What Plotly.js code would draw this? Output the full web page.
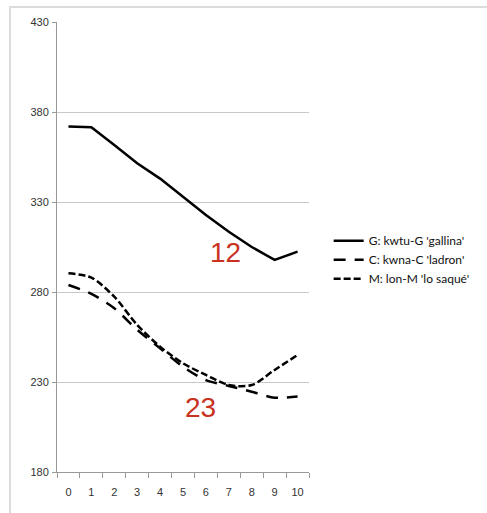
<!DOCTYPE html>
<html>
<head>
<meta charset="utf-8">
<script src="https://cdn.plot.ly/plotly-3.0.1.min.js"></script>
<style>
html,body{margin:0;padding:0;background:#fff;}
#frame{position:absolute;left:9px;top:6px;width:600px;height:600px;border:2px solid #dcdcdc;}
#chart{position:absolute;left:0;top:0;width:487px;height:513px;}
</style>
</head>
<body>
<div id="frame"></div>
<div id="chart"></div>
<script>
var categories = ['0','1','2','3','4','5','6','7','8','9','10'];
var seriesG = [372, 371.5, 361.7, 351.5, 343, 333, 322.8, 313.5, 305, 297.8, 302.4];
var seriesC = [283.9, 279, 271, 259, 248.7, 238.5, 231, 227.8, 224.6, 221.3, 221.9];
var seriesM = [290.4, 288, 277.4, 261.7, 249.6, 240.4, 233.9, 228.3, 228.3, 236.7, 245];
var namesList = ["G: kwtu-G 'gallina'", "C: kwna-C 'ladron'", "M: lon-M 'lo saqué'"];
var yTicks = [180, 230, 280, 330, 380, 430];

var traces = [
  {x: categories, y: seriesG, name: namesList[0], mode: 'lines', type: 'scatter',
   line: {color: '#000', width: 2.5}},
  {x: categories, y: seriesC, name: namesList[1], mode: 'lines', type: 'scatter',
   line: {color: '#000', width: 2.5, dash: '12px,9px', shape: 'spline', smoothing: 0.8}},
  {x: categories, y: seriesM, name: namesList[2], mode: 'lines', type: 'scatter',
   line: {color: '#000', width: 2.5, dash: '7px,3px', shape: 'spline', smoothing: 0.8}}
];

var layout = {
  width: 487, height: 513,
  margin: {l: 57, r: 174, t: 22, b: 41},
  paper_bgcolor: 'rgba(0,0,0,0)',
  plot_bgcolor: 'rgba(0,0,0,0)',
  font: {family: 'Liberation Sans, Arial, sans-serif', size: 11, color: '#333'},
  showlegend: true,
  legend: {x: 1.078, y: 0.546, xanchor: 'left', yanchor: 'top',
           font: {family: 'Lato, sans-serif', size: 12, color: '#111'},
           tracegroupgap: 0, itemwidth: 30},
  xaxis: {type: 'category', range: [-0.5, 10.5], tickson: 'boundaries', ticks: 'outside', ticklen: 5,
          tickcolor: '#999', showline: true, linecolor: '#999', linewidth: 1,
          showgrid: false, zeroline: false, ticklabelstandoff: 10,
          tickfont: {size: 11, color: '#333'}},
  yaxis: {range: [180, 430], tickvals: yTicks, ticks: 'outside', ticklen: 4,
          tickcolor: '#999', showline: true, linecolor: '#999', linewidth: 1,
          showgrid: true, gridcolor: '#c8c8c8', gridwidth: 1, zeroline: false,
          ticklabelstandoff: 1,
          tickfont: {size: 11, color: '#333'}},
  annotations: [
    {x: 6.85, y: 301.7, xref: 'x', yref: 'y', text: '12', showarrow: false,
     font: {family: 'Liberation Sans, Arial, sans-serif', size: 28, color: '#c8321e'}},
    {x: 5.75, y: 215.8, xref: 'x', yref: 'y', text: '23', showarrow: false,
     font: {family: 'Liberation Sans, Arial, sans-serif', size: 28, color: '#c8321e'}}
  ]
};

Plotly.newPlot('chart', traces, layout, {displayModeBar: false, staticPlot: true});
</script>
</body>
</html>
